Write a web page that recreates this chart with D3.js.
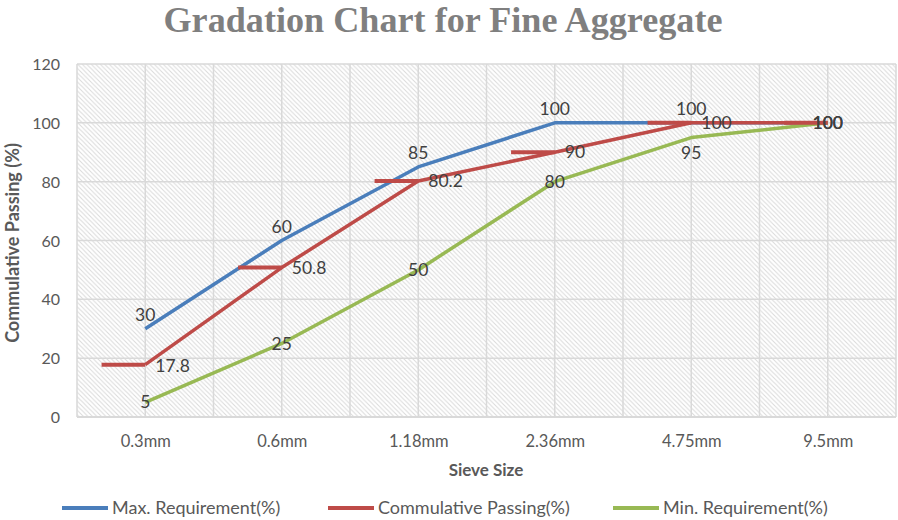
<!DOCTYPE html>
<html><head><meta charset="utf-8">
<script src="https://cdn.jsdelivr.net/npm/d3@7"></script>
<style>
html,body{margin:0;padding:0;background:#fff;}
svg{display:block;font-family:Lato,"Open Sans",sans-serif;}
</style></head>
<body><svg id="c" width="898" height="520"></svg>
<script>
const categories = ["0.3mm","0.6mm","1.18mm","2.36mm","4.75mm","9.5mm"];
const maxReq = [30,60,85,100,100,100];
const cumPassing = [17.8,50.8,80.2,90,100,100];
const minReq = [5,25,50,80,95,100];
const yTicks = [0,20,40,60,80,100,120];
const seriesNames = ["Max. Requirement(%)","Commulative Passing(%)","Min. Requirement(%)"];
const colors = ["#4A7EBB","#BE4B48","#98B954"];

const svg = d3.select("#c");
const L=77, R=896, T=64, B=417;
const x = d3.scalePoint().domain(categories).range([L,R]).padding(0.5);
const y = d3.scaleLinear().domain([0,120]).range([B,T]);
const step = x.step();

// hatch pattern
const defs = svg.append("defs");
const pat = defs.append("pattern").attr("id","hatch").attr("patternUnits","userSpaceOnUse")
  .attr("width",4.5).attr("height",4.5);
pat.append("rect").attr("width",4.5).attr("height",4.5).attr("fill","#fff");
pat.append("path").attr("d","M-1,-1 L5.5,5.5 M-1,3.5 L1,5.5 M3.5,-1 L5.5,1").attr("stroke","#dadada").attr("stroke-width",1);

svg.append("rect").attr("x",L).attr("y",T).attr("width",R-L).attr("height",B-T).attr("fill","url(#hatch)");

// gridlines
const g = svg.append("g");
yTicks.forEach(t=>{
  g.append("line").attr("x1",L).attr("x2",R).attr("y1",y(t)).attr("y2",y(t))
   .attr("stroke","#d9d9d9").attr("stroke-width",1.5);
});
const vx = [];
categories.forEach((c,i)=>{ vx.push(x(c)-step/2); vx.push(x(c)); });
vx.push(R);
vx.forEach(v=>{
  g.append("line").attr("x1",v).attr("x2",v).attr("y1",T).attr("y2",B)
   .attr("stroke","#d9d9d9").attr("stroke-width",1.5);
});
svg.append("line").attr("x1",L).attr("x2",R).attr("y1",B).attr("y2",B).attr("stroke","#d9d9d9").attr("stroke-width",2);

// axes labels
const yAxis = d3.axisLeft(y).tickValues(yTicks).tickSize(0).tickPadding(0);
const ya = svg.append("g").attr("transform",`translate(${L-17},0)`).call(yAxis);
ya.select(".domain").remove();
ya.selectAll("text").attr("fill","#595959").attr("dy","0.35em")
  .style("font-size","16px").style("font-family","Lato,sans-serif");

const xAxis = d3.axisBottom(x).tickSize(0).tickPadding(0);
const xa = svg.append("g").attr("transform",`translate(0,${B+18})`).call(xAxis);
xa.select(".domain").remove();
xa.selectAll("text").attr("fill","#595959")
  .style("font-size","16.5px").style("font-family","Lato,sans-serif");

// lines
const line = d3.line().x((d,i)=>x(categories[i])).y(d=>y(d));
const data = [maxReq,cumPassing,minReq];
[0,1,2].forEach(si=>{
  svg.append("path").attr("d",line(data[si])).attr("fill","none")
    .attr("stroke",colors[si]).attr("stroke-width",3.5).attr("stroke-linejoin","round");
});
// red stubs to the left of each point
const stub = step*0.32;
cumPassing.forEach((v,i)=>{
  svg.append("line").attr("x1",x(categories[i])-stub).attr("x2",x(categories[i]))
    .attr("y1",y(v)).attr("y2",y(v)).attr("stroke",colors[1]).attr("stroke-width",4);
});

// data labels
const lab = svg.append("g").style("font-size","17.5px").attr("fill","#404040");
function label(px,py,txt,anchor){
  lab.append("text").attr("x",px).attr("y",py).attr("text-anchor",anchor).attr("dy","0.35em").text(txt);
}
const last = categories.length-1;
maxReq.forEach((v,i)=>{
  if(i===last) label(x(categories[i]),y(v),v,"middle");
  else label(x(categories[i]),y(v)-14,v,"middle");
});
cumPassing.forEach((v,i)=>{
  if(i===last) label(x(categories[i]),y(v),v,"middle");
  else label(x(categories[i])+10,y(v)+(i===0?1:0),v,"start");
});
minReq.forEach((v,i)=>{
  if(i===4) label(x(categories[i]),y(v)+15,v,"middle");
  else label(x(categories[i]),y(v),v,"middle");
});

// titles
svg.append("text").attr("x",443).attr("y",32).attr("text-anchor","middle")
  .style("font-family","'Liberation Serif','DejaVu Serif',serif").style("font-weight","bold").style("font-size","36px")
  .attr("fill","#7f7f7f").attr("textLength",559).attr("lengthAdjust","spacingAndGlyphs")
  .text("Gradation Chart for Fine Aggregate");
svg.append("text").attr("x",486).attr("y",476).attr("text-anchor","middle")
  .style("font-weight","bold").style("font-size","17px").attr("fill","#595959").text("Sieve Size");
svg.append("text").attr("transform","translate(19,243) rotate(-90)").attr("text-anchor","middle")
  .style("font-weight","bold").style("font-size","18px").attr("fill","#595959").text("Commulative Passing (%)");

// legend
const legX = [62,328,613];
seriesNames.forEach((n,i)=>{
  svg.append("line").attr("x1",legX[i]).attr("x2",legX[i]+46).attr("y1",508).attr("y2",508)
    .attr("stroke",colors[i]).attr("stroke-width",4);
  svg.append("text").attr("x",legX[i]+50).attr("y",508).attr("dy","0.35em")
    .style("font-size","18px").attr("fill","#595959").text(n);
});
</script></body></html>
